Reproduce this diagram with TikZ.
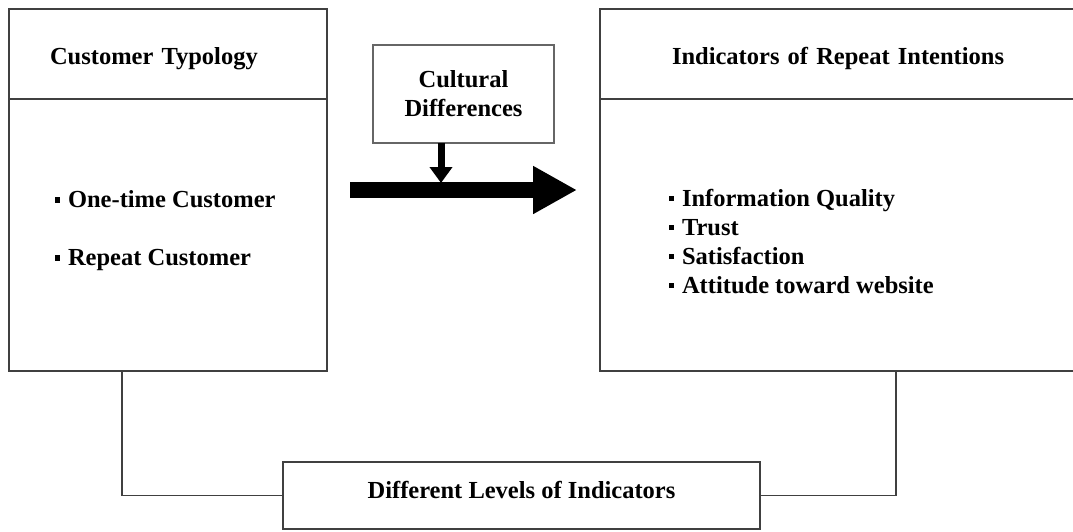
\documentclass[tikz,border=0pt]{standalone}
\usepackage{fontspec}
\setmainfont{Liberation Serif}
\usepackage{tikz}
\usetikzlibrary{arrows.meta,positioning,calc}
\newcommand{\sqbul}{\rule[5pt]{5.5pt}{5.5pt}\hspace{8pt}}

\begin{document}
\begin{tikzpicture}[x=1pt,y=-1pt,
		frame/.style={draw=black!75,line width=1.6pt,fill=white,inner sep=0pt,outer sep=0pt},
		words/.style={font=\fontsize{24.5}{29}\selectfont\bfseries},
		wire/.style={draw=black!75,line width=1.6pt}]
	\useasboundingbox (0,0) rectangle (1073,531);
	\clip (0,0) rectangle (1073,531);
		\node[frame,words,anchor=north west,minimum height=90pt,inner xsep=41pt,text width=236pt,text height=25pt,text depth=5pt,align=left] (typohead) at (9,9) {Customer Typology};
		\node[frame,anchor=north west,minimum width=318pt,minimum height=272pt] (typobody) at (typohead.south west) {};
		\node[words,anchor=west,align=left] (typolist) at (51,231) {\sqbul One-time Customer\\[29pt]\sqbul Repeat Customer};
		\node[frame,words,anchor=north west,minimum height=90pt,inner xsep=72pt,text width=400pt,text height=25pt,text depth=5pt,align=left] (indhead) at (600,9) {Indicators of Repeat Intentions};
		\node[frame,anchor=north west,minimum width=544pt,minimum height=272pt] (indbody) at (indhead.south west) {};
		\node[words,anchor=west,align=left] (indlist) at (665,241.5) {\sqbul Information Quality\\\sqbul Trust\\\sqbul Satisfaction\\\sqbul Attitude toward website};
		\node[frame,words,draw=black!60,minimum width=181pt,minimum height=98pt,align=center] (culture) at (463.5,94) {Cultural\\Differences};
		\node[frame,words,minimum width=477pt,minimum height=67pt,text depth=11pt] (levels) at (521.5,495.5) {Different Levels of Indicators};
	% main flow and the moderating arrow
		\coordinate (flowin) at (350,190);
		\coordinate (flowout) at (577,190);
		\coordinate (flowdrop) at (441,183);
		\draw[line width=16pt,-{Triangle[length=44pt,width=45pt]}] (flowin) -- (flowout);
		\draw[line width=7pt,-{Triangle[length=16pt,width=22pt]}] (culture.south -| flowdrop) -- (flowdrop);
	% links to the bottom box
		\draw[wire] (typobody.south west) ++(113,0) |- (levels.west);
		\draw[wire] (indbody.south west) ++(296,0) |- (levels.east);
\end{tikzpicture}
\end{document}
